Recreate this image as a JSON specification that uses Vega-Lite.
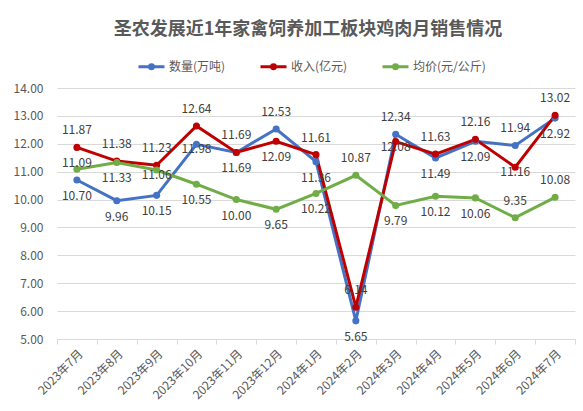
{
  "$schema": "https://vega.github.io/schema/vega-lite/v6.json",
  "width": 518,
  "height": 251,
  "autosize": "none",
  "padding": {"left": 57, "top": 88, "right": 8, "bottom": 72},
  "background": "white",
  "title": {
    "text": "圣农发展近1年家禽饲养加工板块鸡肉月销售情况",
    "font": "Noto Sans CJK SC",
    "fontSize": 18,
    "fontWeight": "bold",
    "color": "#595959",
    "anchor": "middle",
    "dx": -8,
    "offset": 13
  },
  "config": {
    "view": {"stroke": null},
    "font": "Noto Sans CJK SC"
  },
  "data": {
    "values": [
      {"month": "2023年7月", "series": "数量(万吨)", "value": 10.70},
      {"month": "2023年8月", "series": "数量(万吨)", "value": 9.96},
      {"month": "2023年9月", "series": "数量(万吨)", "value": 10.15},
      {"month": "2023年10月", "series": "数量(万吨)", "value": 11.98},
      {"month": "2023年11月", "series": "数量(万吨)", "value": 11.69},
      {"month": "2023年12月", "series": "数量(万吨)", "value": 12.53},
      {"month": "2024年1月", "series": "数量(万吨)", "value": 11.36},
      {"month": "2024年2月", "series": "数量(万吨)", "value": 5.65},
      {"month": "2024年3月", "series": "数量(万吨)", "value": 12.34},
      {"month": "2024年4月", "series": "数量(万吨)", "value": 11.49},
      {"month": "2024年5月", "series": "数量(万吨)", "value": 12.09},
      {"month": "2024年6月", "series": "数量(万吨)", "value": 11.94},
      {"month": "2024年7月", "series": "数量(万吨)", "value": 12.92},
      {"month": "2023年7月", "series": "收入(亿元)", "value": 11.87},
      {"month": "2023年8月", "series": "收入(亿元)", "value": 11.38},
      {"month": "2023年9月", "series": "收入(亿元)", "value": 11.23},
      {"month": "2023年10月", "series": "收入(亿元)", "value": 12.64},
      {"month": "2023年11月", "series": "收入(亿元)", "value": 11.69},
      {"month": "2023年12月", "series": "收入(亿元)", "value": 12.09},
      {"month": "2024年1月", "series": "收入(亿元)", "value": 11.61},
      {"month": "2024年2月", "series": "收入(亿元)", "value": 6.14},
      {"month": "2024年3月", "series": "收入(亿元)", "value": 12.08},
      {"month": "2024年4月", "series": "收入(亿元)", "value": 11.63},
      {"month": "2024年5月", "series": "收入(亿元)", "value": 12.16},
      {"month": "2024年6月", "series": "收入(亿元)", "value": 11.16},
      {"month": "2024年7月", "series": "收入(亿元)", "value": 13.02},
      {"month": "2023年7月", "series": "均价(元/公斤)", "value": 11.09},
      {"month": "2023年8月", "series": "均价(元/公斤)", "value": 11.33},
      {"month": "2023年9月", "series": "均价(元/公斤)", "value": 11.06},
      {"month": "2023年10月", "series": "均价(元/公斤)", "value": 10.55},
      {"month": "2023年11月", "series": "均价(元/公斤)", "value": 10.00},
      {"month": "2023年12月", "series": "均价(元/公斤)", "value": 9.65},
      {"month": "2024年1月", "series": "均价(元/公斤)", "value": 10.22},
      {"month": "2024年2月", "series": "均价(元/公斤)", "value": 10.87},
      {"month": "2024年3月", "series": "均价(元/公斤)", "value": 9.79},
      {"month": "2024年4月", "series": "均价(元/公斤)", "value": 10.12},
      {"month": "2024年5月", "series": "均价(元/公斤)", "value": 10.06},
      {"month": "2024年6月", "series": "均价(元/公斤)", "value": 9.35},
      {"month": "2024年7月", "series": "均价(元/公斤)", "value": 10.08}
    ]
  },
  "encoding": {
    "x": {
      "field": "month",
      "type": "ordinal",
      "sort": null,
      "bandPosition": 0.5,
      "scale": {"type": "band", "paddingInner": 0, "paddingOuter": 0},
      "axis": {
        "title": null,
        "grid": false,
        "domainColor": "#D9D9D9",
        "tickColor": "#D9D9D9",
        "tickSize": 5,
        "tickBand": "extent",
        "labelAngle": -45,
        "labelFontSize": 12,
        "labelColor": "#595959",
        "labelPadding": 4
      }
    },
    "y": {
      "field": "value",
      "type": "quantitative",
      "scale": {"domain": [5, 14], "nice": false, "zero": false},
      "axis": {
        "title": null,
        "values": [5, 6, 7, 8, 9, 10, 11, 12, 13, 14],
        "format": ".2f",
        "domain": false,
        "ticks": false,
        "gridColor": "#D9D9D9",
        "labelFontSize": 12,
        "labelColor": "#595959",
        "labelPadding": 14
      }
    },
    "color": {
      "field": "series",
      "type": "nominal",
      "sort": null,
      "scale": {
        "domain": ["数量(万吨)", "收入(亿元)", "均价(元/公斤)"],
        "range": ["#4472C4", "#C00000", "#70AD47"]
      },
      "legend": {
        "title": null,
        "orient": "none",
        "direction": "horizontal",
        "legendX": 80,
        "legendY": -36,
        "symbolType": "M-1,0L1,0M0.15,0A0.15,0.15,0,1,1,-0.15,0A0.15,0.15,0,1,1,0.15,0Z",
        "symbolSize": 676,
        "symbolStrokeWidth": 3,
        "labelFontSize": 12,
        "labelColor": "#595959",
        "labelOffset": 3,
        "columnPadding": 28,
        "encode": {
          "symbols": {"update": {"fill": {"scale": "color", "field": "value"}, "opacity": {"value": 1}}}
        }
      }
    }
  },
  "layer": [
    {"mark": {"type": "line", "strokeWidth": 3}},
    {"mark": {"type": "point", "filled": true, "size": 50, "opacity": 1}},
    {
      "transform": [
        {"filter": "(datum.series == '数量(万吨)' && indexof(['2023年12月', '2024年3月', '2024年6月'], datum.month) >= 0) || (datum.series == '收入(亿元)' && indexof(['2023年12月', '2024年3月', '2024年6月'], datum.month) < 0) || (datum.series == '均价(元/公斤)' && indexof(['2024年2月', '2024年6月', '2024年7月'], datum.month) >= 0)"}
      ],
      "mark": {"type": "text", "fontSize": 12, "dy": -17, "baseline": "middle"},
      "encoding": {
        "text": {"field": "value", "type": "quantitative", "format": ".2f"},
        "color": {"value": "#404040"}
      }
    },
    {
      "transform": [
        {"filter": "(datum.series == '数量(万吨)' && indexof(['2023年10月', '2023年12月', '2024年3月', '2024年6月'], datum.month) < 0) || (datum.series == '收入(亿元)' && datum.month == '2023年12月') || (datum.series == '均价(元/公斤)' && indexof(['2023年7月', '2023年9月', '2024年2月', '2024年6月', '2024年7月'], datum.month) < 0)"}
      ],
      "mark": {"type": "text", "fontSize": 12, "dy": 16, "baseline": "middle"},
      "encoding": {
        "text": {"field": "value", "type": "quantitative", "format": ".2f"},
        "color": {"value": "#404040"}
      }
    },
    {
      "transform": [
        {"filter": "(datum.series == '数量(万吨)' && datum.month == '2023年10月') || (datum.series == '收入(亿元)' && indexof(['2024年3月', '2024年6月'], datum.month) >= 0) || (datum.series == '均价(元/公斤)' && datum.month == '2023年9月')"}
      ],
      "mark": {"type": "text", "fontSize": 12, "dy": 5, "baseline": "middle"},
      "encoding": {
        "text": {"field": "value", "type": "quantitative", "format": ".2f"},
        "color": {"value": "#404040"}
      }
    },
    {
      "transform": [
        {"filter": "datum.series == '均价(元/公斤)' && datum.month == '2023年7月'"}
      ],
      "mark": {"type": "text", "fontSize": 12, "dy": -6, "baseline": "middle"},
      "encoding": {
        "text": {"field": "value", "type": "quantitative", "format": ".2f"},
        "color": {"value": "#404040"}
      }
    }
  ]
}
